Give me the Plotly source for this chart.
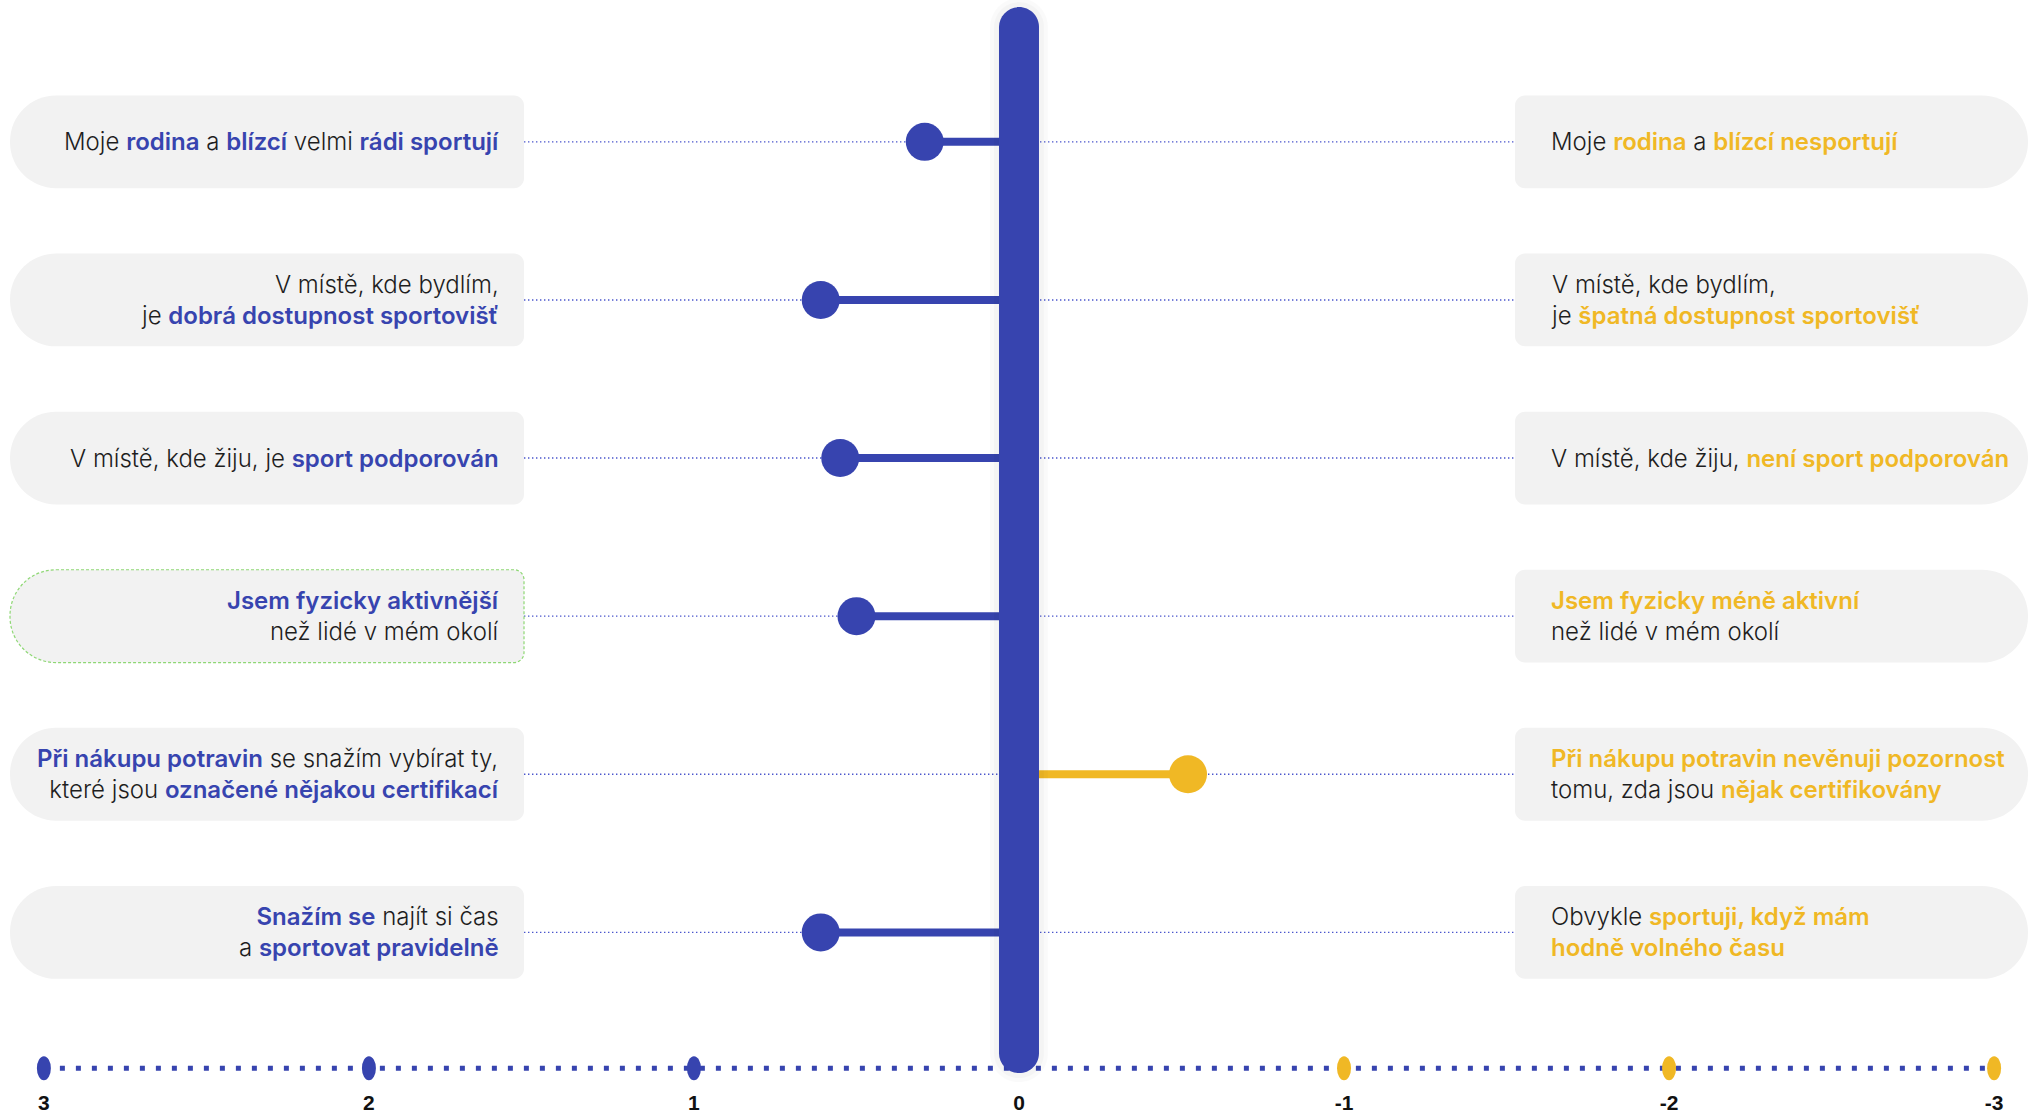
import re
import plotly.graph_objects as go

# ---- data -------------------------------------------------------------
BLUE = "#3744AF"
YELLOW = "#F0B825"
INK = "#1E1E1E"
BOX_FILL = "#F2F2F2"

# statement pairs; *...* marks the highlighted words
left_labels = [
    "Moje *rodina* a *blízcí* velmi *rádi sportují*",
    "V místě, kde bydlím,<br>je *dobrá dostupnost sportovišť*",
    "V místě, kde žiju, je *sport podporován*",
    "*Jsem fyzicky aktivnější*<br>než lidé v mém okolí",
    "*Při nákupu potravin* se snažím vybírat ty,<br>které jsou *označené nějakou certifikací*",
    "*Snažím se* najít si čas<br>a *sportovat pravidelně*",
]
right_labels = [
    "Moje *rodina* a *blízcí nesportují*",
    "V místě, kde bydlím,<br>je *špatná dostupnost sportovišť*",
    "V místě, kde žiju, *není sport podporován*",
    "*Jsem fyzicky méně aktivní*<br>než lidé v mém okolí",
    "*Při nákupu potravin nevěnuji pozornost*<br>tomu, zda jsou *nějak certifikovány*",
    "Obvykle *sportuji, když mám*<br>*hodně volného času*",
]
scores = [0.29, 0.61, 0.55, 0.50, -0.52, 0.61]
tick_vals = [3, 2, 1, 0, -1, -2, -3]
tick_text = ["3", "2", "1", "0", "-1", "-2", "-3"]

# ---- layout constants -------------------------------------------------
W, H = 2037, 1114
X_RANGE = [3.135, -3.132]      # positive scores on the left
Y_RANGE = [6.136, -0.897]      # row 0 at the top
PX_X = W / (X_RANGE[0] - X_RANGE[1])
PX_Y = H / (Y_RANGE[0] - Y_RANGE[1])
AXIS_Y = 5.859
BAR_TOP, BAR_BOTTOM = -0.852, 5.89
rows = list(range(len(scores)))
FONT = "Inter"
FONT_SIZE = 24


def to_data(px, py):
    return X_RANGE[0] - px / PX_X, Y_RANGE[1] + py / PX_Y


def to_px(x, y):
    return (X_RANGE[0] - x) * PX_X, (y - Y_RANGE[1]) * PX_Y


def rounded_path(l, t, r, b, tl, tr, br, bl):
    """Rounded rectangle given in pixels, returned as a data-space SVG path."""
    k = 0.5523
    pts = [
        ("M", [(l + tl, t)]),
        ("L", [(r - tr, t)]),
        ("C", [(r - tr + k * tr, t), (r, t + tr - k * tr), (r, t + tr)]),
        ("L", [(r, b - br)]),
        ("C", [(r, b - br + k * br), (r - br + k * br, b), (r - br, b)]),
        ("L", [(l + bl, b)]),
        ("C", [(l + bl - k * bl, b), (l, b - bl + k * bl), (l, b - bl)]),
        ("L", [(l, t + tl)]),
        ("C", [(l, t + tl - k * tl), (l + tl - k * tl, t), (l + tl, t)]),
    ]
    out = []
    for cmd, ps in pts:
        coords = " ".join("%.5f,%.5f" % to_data(px, py) for px, py in ps)
        out.append(cmd + " " + coords)
    return " ".join(out) + " Z"


def rich(text, color):
    return re.sub(r"\*(.+?)\*",
                  lambda m: "<span style='font-weight:600;color:%s'>%s</span>" % (color, m.group(1)),
                  text)


shapes = []
annotations = []

BOX_L = (10, 524)
BOX_R = (1515, 2028)
BOX_HH = 46.5

for i in rows:
    _, cy = to_px(0, i)
    t, b = cy - BOX_HH, cy + BOX_HH
    shapes.append(dict(type="path", layer="below", line=dict(width=0), fillcolor=BOX_FILL,
                       path=rounded_path(BOX_L[0], t, BOX_L[1], b, 46, 10, 10, 46)))
    shapes.append(dict(type="path", layer="below", line=dict(width=0), fillcolor=BOX_FILL,
                       path=rounded_path(BOX_R[0], t, BOX_R[1], b, 10, 46, 46, 10)))
    # dotted connector between the two statements
    x0, _ = to_data(BOX_L[1], 0)
    x1, _ = to_data(BOX_R[0], 0)
    shapes.append(dict(type="line", layer="below", x0=x0, x1=x1, y0=i, y1=i,
                       line=dict(color="#4A55CC", width=1.4, dash="1.4px,2.6px")))
    annotations.append(dict(x=to_data(BOX_L[1] - 23, 0)[0], y=i, text=rich(left_labels[i], BLUE),
                            xanchor="right", align="right", yanchor="middle", showarrow=False,
                            font=dict(family=FONT, size=FONT_SIZE, weight=300, color=INK)))
    annotations.append(dict(x=to_data(BOX_R[0] + 34, 0)[0], y=i, text=rich(right_labels[i], YELLOW),
                            xanchor="left", align="left", yanchor="middle", showarrow=False,
                            font=dict(family=FONT, size=FONT_SIZE, weight=300, color=INK)))

# highlighted outline on the fourth statement
_, cy = to_px(0, 3)
shapes.append(dict(type="path", layer="below", fillcolor="rgba(0,0,0,0)",
                   line=dict(color="#8ED774", width=1.2, dash="3px,2px"),
                   path=rounded_path(BOX_L[0], cy - BOX_HH, BOX_L[1], cy + BOX_HH, 46, 10, 10, 46)))

# dotted scale line
shapes.append(dict(type="line", layer="below", x0=tick_vals[0], x1=tick_vals[-1], y0=AXIS_Y, y1=AXIS_Y,
                   line=dict(color=BLUE, width=5, dash="5px,11px")))

# central zero bar with a soft halo
bx, _ = to_px(0, 0)
_, bt = to_px(0, BAR_TOP)
_, bb = to_px(0, BAR_BOTTOM)
for pad, alpha in [(9, 0.018), (5, 0.025)]:
    shapes.append(dict(type="path", layer="above", line=dict(width=0),
                       fillcolor="rgba(0,0,0,%s)" % alpha,
                       path=rounded_path(bx - 20 - pad, bt - pad, bx + 20 + pad, bb + pad,
                                         20 + pad, 20 + pad, 20 + pad, 20 + pad)))
shapes.append(dict(type="path", layer="above", line=dict(width=0), fillcolor=BLUE,
                   path=rounded_path(bx - 20, bt, bx + 20, bb, 20, 20, 20, 20)))

# tick markers on the scale
for v in tick_vals:
    if v == 0:
        continue
    shapes.append(dict(type="circle", layer="above", xref="x", yref="y",
                       xsizemode="pixel", ysizemode="pixel", xanchor=v, yanchor=AXIS_Y,
                       x0=-7, x1=7, y0=-12, y1=12,
                       fillcolor=BLUE if v > 0 else YELLOW, line=dict(width=0)))

fig = go.Figure()

# stems from the zero bar to each score
for sign, color in [(1, BLUE), (-1, YELLOW)]:
    xs, ys = [], []
    for i, s in zip(rows, scores):
        if s * sign > 0:
            xs += [0, s, None]
            ys += [i, i, None]
    fig.add_trace(go.Scatter(x=xs, y=ys, mode="lines", line=dict(color=color, width=8),
                             hoverinfo="skip", showlegend=False))

fig.add_trace(go.Scatter(
    x=scores, y=rows, mode="markers",
    marker=dict(size=38, color=[BLUE if s > 0 else YELLOW for s in scores], line=dict(width=0)),
    showlegend=False, hovertemplate="%{x}<extra></extra>"))

fig.update_layout(
    width=W, height=H, margin=dict(l=0, r=0, t=0, b=0),
    paper_bgcolor="white", plot_bgcolor="white",
    shapes=shapes, annotations=annotations, showlegend=False,
    xaxis=dict(range=X_RANGE, showgrid=False, zeroline=False, showline=False, ticks="",
               tickvals=tick_vals, ticktext=tick_text, anchor="free",
               position=1 - 1090 / H,
               tickfont=dict(family="Liberation Sans Narrow, Liberation Sans", size=21,
                             weight="bold", color="#111111")),
    yaxis=dict(range=Y_RANGE, showgrid=False, zeroline=False, showline=False,
               showticklabels=False, ticks=""),
)

fig.write_html("out.html")
